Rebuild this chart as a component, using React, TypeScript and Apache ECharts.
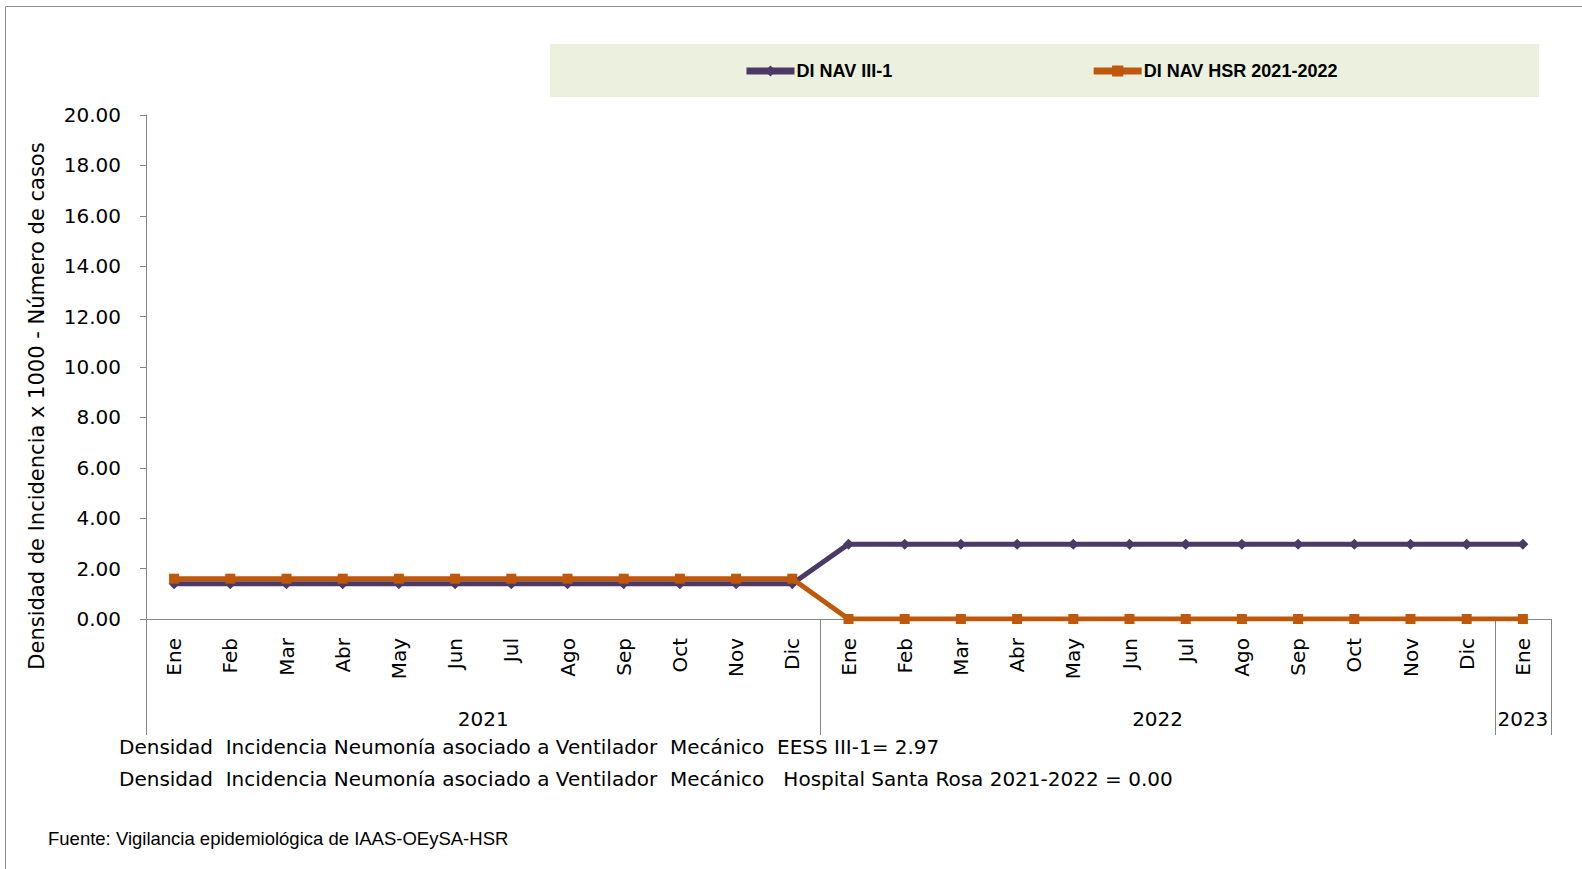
import React, { useEffect, useRef } from "react";
import * as echarts from "echarts";

const months = [
  "Ene", "Feb", "Mar", "Abr", "May", "Jun", "Jul", "Ago", "Sep", "Oct", "Nov", "Dic",
  "Ene", "Feb", "Mar", "Abr", "May", "Jun", "Jul", "Ago", "Sep", "Oct", "Nov", "Dic",
  "Ene",
];
const years = ["2021", "2022", "2023"];
const monthsPerYear = [12, 12, 1];

const seriesIII1 = [
  1.4, 1.4, 1.4, 1.4, 1.4, 1.4, 1.4, 1.4, 1.4, 1.4, 1.4, 1.4,
  2.97, 2.97, 2.97, 2.97, 2.97, 2.97, 2.97, 2.97, 2.97, 2.97, 2.97, 2.97,
  2.97,
];
const seriesHSR = [
  1.6, 1.6, 1.6, 1.6, 1.6, 1.6, 1.6, 1.6, 1.6, 1.6, 1.6, 1.6,
  0, 0, 0, 0, 0, 0, 0, 0, 0, 0, 0, 0,
  0,
];
const seriesNames = ["DI NAV III-1", "DI NAV HSR 2021-2022"];
const yTicks = { min: 0, max: 20, interval: 2 };
const yAxisTitle = "Densidad de Incidencia x 1000 - Número de casos";
const noteLines = [
  "Densidad  Incidencia Neumonía asociado a Ventilador  Mecánico  EESS III-1= 2.97",
  "Densidad  Incidencia Neumonía asociado a Ventilador  Mecánico   Hospital Santa Rosa 2021-2022 = 0.00",
];
const sourceText = "Fuente: Vigilancia epidemiológica de IAAS-OEySA-HSR";

export default function App() {
  const ref = useRef<HTMLDivElement>(null);

  useEffect(() => {
    document.body.style.margin = "0";
    const chart = echarts.init(ref.current!, null, { renderer: "svg" });

    const boundaries: number[] = [0];
    monthsPerYear.forEach((n) => boundaries.push(boundaries[boundaries.length - 1] + n));
    const centers = monthsPerYear.map((n, i) => boundaries[i] + n / 2);

    const axisColor = "#868686";
    const purple = "#4B3A66";
    const orange = "#BF580A";

    chart.setOption({
      animation: false,
      backgroundColor: "#ffffff",
      grid: { left: 146, right: 31, top: 115, bottom: 250, containLabel: false },
      legend: {
        data: seriesNames,
        left: 738,
        top: 57,
        itemWidth: 48,
        itemHeight: 14,
        itemGap: 198,
        lineStyle: { width: 7 },
        textStyle: {
          fontFamily: "Liberation Sans",
          fontWeight: "bold",
          fontSize: 18,
          color: "#000",
          padding: [0, 0, 0, -3],
        },
      },
      graphic: [
        {
          type: "rect",
          z: -10,
          shape: { x: 5.5, y: 6.5, width: 1620, height: 900 },
          style: { fill: "none", stroke: "#8c8c8c", lineWidth: 1 },
        },
        {
          type: "rect",
          z: -5,
          shape: { x: 550, y: 44, width: 989, height: 53 },
          style: { fill: "#EBF1DE" },
        },
        {
          type: "text",
          x: 37,
          y: 406,
          rotation: Math.PI / 2,
          style: {
            text: yAxisTitle,
            font: "21px 'DejaVu Sans'",
            fill: "#000",
            align: "center",
            verticalAlign: "middle",
          },
        },
        {
          type: "text",
          x: 119,
          y: 747,
          style: {
            text: noteLines[0],
            font: "20px 'DejaVu Sans'",
            fill: "#000",
            verticalAlign: "middle",
          },
        },
        {
          type: "text",
          x: 119,
          y: 779,
          style: {
            text: noteLines[1],
            font: "20px 'DejaVu Sans'",
            fill: "#000",
            verticalAlign: "middle",
          },
        },
        {
          type: "text",
          x: 48,
          y: 838,
          style: {
            text: sourceText,
            font: "18.5px 'Liberation Sans'",
            fill: "#000",
            verticalAlign: "middle",
          },
        },
      ],
      xAxis: [
        {
          type: "category",
          data: months,
          boundaryGap: true,
          axisLine: { show: true, lineStyle: { color: axisColor, width: 1 } },
          axisTick: { show: false },
          axisLabel: {
            rotate: 90,
            margin: 19,
            fontFamily: "DejaVu Sans",
            fontSize: 20,
            color: "#000",
            interval: 0,
          },
          splitLine: { show: false },
        },
        {
          type: "value",
          position: "bottom",
          min: 0,
          max: boundaries[boundaries.length - 1],
          axisLine: { show: false },
          splitLine: { show: false },
          axisTick: {
            show: true,
            inside: false,
            length: 116,
            customValues: boundaries,
            lineStyle: { color: axisColor, width: 1 },
          },
          axisLabel: {
            customValues: centers,
            margin: 90,
            fontFamily: "DejaVu Sans",
            fontSize: 20,
            color: "#000",
            formatter: (v: number) => {
              const i = centers.findIndex((c) => Math.abs(c - v) < 1e-6);
              return i >= 0 ? years[i] : "";
            },
          },
        },
      ],
      yAxis: {
        type: "value",
        min: yTicks.min,
        max: yTicks.max,
        interval: yTicks.interval,
        axisLine: { show: true, lineStyle: { color: axisColor, width: 1 } },
        axisTick: { show: true, inside: false, length: 6, lineStyle: { color: axisColor } },
        axisLabel: {
          margin: 25,
          fontFamily: "DejaVu Sans",
          fontSize: 20,
          color: "#000",
          formatter: (v: number) => v.toFixed(2),
        },
        splitLine: { show: false },
      },
      series: [
        {
          name: seriesNames[0],
          type: "line",
          data: seriesIII1,
          xAxisIndex: 0,
          symbol: "diamond",
          symbolSize: 11,
          lineStyle: { color: purple, width: 5 },
          itemStyle: { color: purple },
          z: 2,
        },
        {
          name: seriesNames[1],
          type: "line",
          data: seriesHSR,
          xAxisIndex: 0,
          symbol: "rect",
          symbolSize: 10,
          lineStyle: { color: orange, width: 5 },
          itemStyle: { color: orange },
          z: 3,
        },
      ],
    });

    return () => chart.dispose();
  }, []);

  return <div ref={ref} style={{ width: 1582, height: 869 }} />;
}
